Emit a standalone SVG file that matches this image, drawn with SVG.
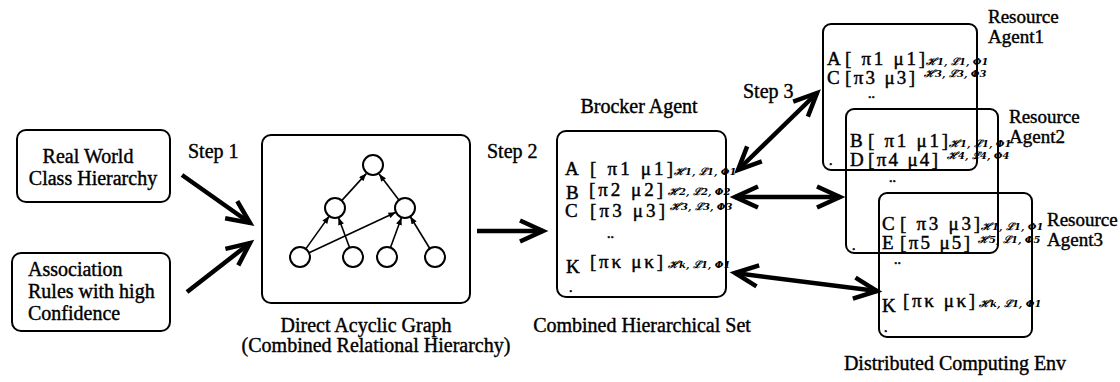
<svg xmlns="http://www.w3.org/2000/svg" width="1120" height="382" viewBox="0 0 1120 382">
  <defs>
    <style>
      .lbl { font-family: "Liberation Serif", "Times New Roman", serif; font-size: 20px; fill: #000; stroke: #000; stroke-width: 0.4; }
      .agent { font-size: 19px; }
      .mid { text-anchor: middle; }
      .row { font-family: "Liberation Serif", "Times New Roman", serif; font-size: 19px; fill: #000; stroke: #000; stroke-width: 0.45; }
      .dots { font-family: "Liberation Serif", "Times New Roman", serif; font-size: 14px; fill: #000; stroke: #000; stroke-width: 0.6; }
      .sub { font-family: "DejaVu Serif", "Liberation Serif", serif; font-size: 10px; font-style: italic; font-weight: bold; fill: #000; }
      .box { fill: none; stroke: #000; stroke-width: 2; }
      .flow { fill: none; stroke: #000; stroke-width: 4.5; marker-end: url(#vhead); }
      .both { marker-start: url(#vhead); }
      .edge { stroke: #000; stroke-width: 1.6; marker-end: url(#tri); }
      .vertex { fill: #fff; stroke: #000; stroke-width: 2; }
    </style>
    <!-- open, thick V-shaped arrowhead used by the step arrows -->
    <marker id="vhead" viewBox="0 0 26 24" refX="24" refY="12" markerWidth="26" markerHeight="24" markerUnits="userSpaceOnUse" orient="auto-start-reverse" style="overflow:visible">
      <path d="M1,1.5 L24,12 L1,22.5" fill="none" stroke="#000" stroke-width="4.5" stroke-linejoin="miter"/>
    </marker>
    <!-- small filled head for the graph edges -->
    <marker id="tri" viewBox="0 0 10 8" refX="10" refY="4" markerWidth="8" markerHeight="6" markerUnits="userSpaceOnUse" orient="auto">
      <path d="M0,0 L10,4 L0,8 Z" fill="#000"/>
    </marker>
  </defs>

  <!-- input sources -->
  <g id="class-hierarchy">
    <rect class="box" x="17" y="130" width="153" height="72" rx="9"/>
    <text class="lbl mid" x="88" y="163">Real World</text>
    <text class="lbl mid" x="93" y="185">Class Hierarchy</text>
  </g>
  <g id="association-rules">
    <rect class="box" x="12" y="253" width="158" height="78" rx="9"/>
    <text class="lbl" x="28" y="276">Association</text>
    <text class="lbl" x="28" y="298">Rules with high</text>
    <text class="lbl" x="28" y="320">Confidence</text>
  </g>

  <!-- combined relational hierarchy -->
  <g id="dag">
    <rect class="box" x="262" y="135" width="208" height="168" rx="9"/>
    <g id="dag-edges">
      <line class="edge" x1="305.8" y1="248.9" x2="329.2" y2="216.1"/>
      <line class="edge" x1="349.5" y1="247.6" x2="338.5" y2="217.4"/>
      <line class="edge" x1="309.1" y1="252.8" x2="395.9" y2="212.2"/>
      <line class="edge" x1="390.5" y1="247.6" x2="401.5" y2="217.4"/>
      <line class="edge" x1="429.8" y1="248.5" x2="410.2" y2="216.5"/>
      <line class="edge" x1="341.7" y1="200.6" x2="366.3" y2="173.6"/>
      <line class="edge" x1="398.9" y1="200.0" x2="379.1" y2="174.0"/>
    </g>
    <circle class="vertex" cx="373" cy="165" r="10"/>
    <circle class="vertex" cx="335" cy="208" r="10"/>
    <circle class="vertex" cx="405" cy="208" r="10"/>
    <circle class="vertex" cx="300" cy="257" r="10"/>
    <circle class="vertex" cx="353" cy="257" r="10"/>
    <circle class="vertex" cx="387" cy="257" r="10"/>
    <circle class="vertex" cx="435" cy="257" r="10"/>
    <text class="lbl mid" x="366" y="332">Direct Acyclic Graph</text>
    <text class="lbl mid" x="376" y="352">(Combined Relational Hierarchy)</text>
  </g>

  <!-- broker agent -->
  <g id="broker">
    <text class="lbl mid" x="639" y="113">Brocker Agent</text>
    <rect class="box" x="557" y="131" width="169" height="166" rx="9"/>
    <text class="row" x="565" y="175">A</text>
    <text class="row" x="590" y="175" textLength="83">[ π1 μ1]</text>
    <text class="sub" x="674" y="175">ℋ1, ℒ1, Φ1</text>
    <text class="row" x="566" y="199">B</text>
    <text class="row" x="589" y="196" textLength="74">[π2 μ2]</text>
    <text class="sub" x="668" y="195">ℋ2, ℒ2, Φ2</text>
    <text class="row" x="565" y="217">C</text>
    <text class="row" x="590" y="217" textLength="75">[π3 μ3]</text>
    <text class="sub" x="670" y="210">ℋ3, ℒ3, Φ3</text>
    <text class="dots" x="607" y="238">..</text>
    <text class="row" x="566" y="273">K</text>
    <text class="row" x="590" y="268" textLength="73">[πκ μκ]</text>
    <text class="sub" x="668" y="268">ℋk, ℒ1, Φ1</text>
    <text class="dots" x="569" y="292">.</text>
    <text class="lbl mid" x="642" y="332">Combined Hierarchical Set</text>
  </g>

  <!-- resource agents -->
  <g id="resource-agent-1">
    <rect class="box" x="823" y="24" width="154" height="146" rx="8"/>
    <text class="lbl agent" x="988" y="23">Resource</text>
    <text class="lbl agent" x="988" y="43">Agent1</text>
    <text class="row" x="827" y="65">A</text>
    <text class="row" x="845" y="65" textLength="80">[ π1 μ1]</text>
    <text class="sub" x="926" y="65">ℋ1, ℒ1, Φ1</text>
    <text class="row" x="827" y="84">C</text>
    <text class="row" x="845" y="84" textLength="70">[π3 μ3]</text>
    <text class="sub" x="924" y="77">ℋ3, ℒ3, Φ3</text>
    <text class="dots" x="868" y="98">..</text>
    <text class="dots" x="829" y="165">.</text>
  </g>
  <g id="resource-agent-2">
    <rect class="box" x="846" y="109" width="152" height="144" rx="8"/>
    <text class="lbl agent" x="1009" y="123">Resource</text>
    <text class="lbl agent" x="1009" y="143">Agent2</text>
    <text class="row" x="850" y="147">B</text>
    <text class="row" x="868" y="147" textLength="80">[ π1 μ1]</text>
    <text class="sub" x="949" y="147">ℋ1, ℒ1, Φ1</text>
    <text class="row" x="850" y="166">D</text>
    <text class="row" x="868" y="166" textLength="70">[π4 μ4]</text>
    <text class="sub" x="947" y="159">ℋ4, ℒ4, Φ4</text>
    <text class="dots" x="889" y="182">..</text>
    <text class="dots" x="852" y="250">.</text>
  </g>
  <g id="resource-agent-3">
    <rect class="box" x="879" y="193" width="153" height="144" rx="8"/>
    <text class="lbl agent" x="1047" y="226">Resource</text>
    <text class="lbl agent" x="1047" y="246">Agent3</text>
    <text class="row" x="882" y="230">C</text>
    <text class="row" x="900" y="230" textLength="80">[ π3 μ3]</text>
    <text class="sub" x="981" y="230">ℋ1, ℒ1, Φ1</text>
    <text class="row" x="882" y="249">E</text>
    <text class="row" x="900" y="249" textLength="70">[π5 μ5]</text>
    <text class="sub" x="978" y="243">ℋ5, ℒ1, Φ5</text>
    <text class="dots" x="894" y="264">..</text>
    <text class="row" x="882" y="312">K</text>
    <text class="row" x="903" y="307" textLength="72">[πκ μκ]</text>
    <text class="sub" x="979" y="307">ℋk, ℒ1, Φ1</text>
    <text class="dots" x="884" y="332">.</text>
    <text class="lbl mid" x="955" y="370">Distributed Computing Env</text>
  </g>

  <!-- step connectors -->
  <g id="connectors">
    <text class="lbl" x="188" y="158">Step 1</text>
    <line class="flow" x1="182" y1="175" x2="250" y2="223"/>
    <line class="flow" x1="187" y1="292" x2="250" y2="243"/>
    <text class="lbl" x="487" y="158">Step 2</text>
    <line class="flow" x1="477" y1="231" x2="543" y2="231"/>
    <text class="lbl" x="743" y="98">Step 3</text>
    <line class="flow both" x1="738" y1="170" x2="817" y2="93"/>
    <line class="flow both" x1="735" y1="197" x2="840" y2="197"/>
    <line class="flow both" x1="735" y1="273" x2="877" y2="291"/>
  </g>
</svg>
